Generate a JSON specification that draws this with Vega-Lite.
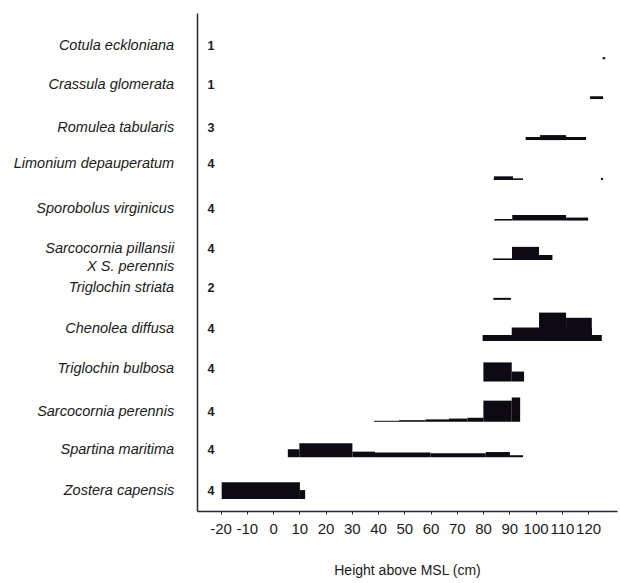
{
  "$schema": "https://vega.github.io/schema/vega-lite/v6.json",
  "width": 420,
  "height": 498,
  "autosize": {"type": "none"},
  "padding": {"left": 197, "top": 13, "right": 3, "bottom": 72},
  "background": "white",
  "config": {
    "view": {"stroke": null},
    "font": "Liberation Sans",
    "axisX": {
      "grid": false,
      "domainColor": "#2e2433",
      "domainWidth": 1.5,
      "tickColor": "#2e2433",
      "tickSize": 3,
      "labelFont": "Liberation Sans",
      "labelFontSize": 15,
      "labelColor": "#1a1a1a",
      "labelPadding": 7,
      "labelOverlap": false,
      "titleFont": "Liberation Sans",
      "titleFontSize": 14,
      "titleFontWeight": "normal",
      "titleColor": "#1a1a1a",
      "titlePadding": 27
    },
    "axisY": {
      "labels": false,
      "ticks": false,
      "grid": false,
      "domainColor": "#2e2433",
      "domainWidth": 1.5
    }
  },
  "datasets": {
    "bars": [
      {"species": "Cotula eckloniana", "from": 125.5, "to": 126.5, "lo": 11.34, "hi": 11.39},
      {"species": "Crassula glomerata", "from": 120.7, "to": 125.7, "lo": 10.34, "hi": 10.41},
      {"species": "Romulea tabularis", "from": 96.2, "to": 119.2, "lo": 9.31, "hi": 9.385},
      {"species": "Romulea tabularis", "from": 101.7, "to": 111.6, "lo": 9.31, "hi": 9.435},
      {"species": "Limonium depauperatum", "from": 84.1, "to": 95.2, "lo": 8.31, "hi": 8.35},
      {"species": "Limonium depauperatum", "from": 84.1, "to": 91.4, "lo": 8.31, "hi": 8.4},
      {"species": "Limonium depauperatum", "from": 124.9, "to": 125.7, "lo": 8.31, "hi": 8.36},
      {"species": "Sporobolus virginicus", "from": 84.3, "to": 91.1, "lo": 7.29, "hi": 7.33},
      {"species": "Sporobolus virginicus", "from": 91.1, "to": 111.6, "lo": 7.29, "hi": 7.43},
      {"species": "Sporobolus virginicus", "from": 111.6, "to": 120, "lo": 7.29, "hi": 7.365},
      {"species": "Sarcocornia pillansii X S. perennis", "from": 83.8, "to": 91, "lo": 6.3, "hi": 6.34},
      {"species": "Sarcocornia pillansii X S. perennis", "from": 91, "to": 106.4, "lo": 6.3, "hi": 6.425},
      {"species": "Sarcocornia pillansii X S. perennis", "from": 91, "to": 101.3, "lo": 6.3, "hi": 6.63},
      {"species": "Triglochin striata", "from": 83.9, "to": 90.6, "lo": 5.3, "hi": 5.35},
      {"species": "Chenolea diffusa", "from": 79.8, "to": 125.2, "lo": 4.27, "hi": 4.42},
      {"species": "Chenolea diffusa", "from": 90.9, "to": 121.4, "lo": 4.27, "hi": 4.605},
      {"species": "Chenolea diffusa", "from": 101.3, "to": 111.6, "lo": 4.27, "hi": 4.98},
      {"species": "Chenolea diffusa", "from": 111.6, "to": 121.4, "lo": 4.27, "hi": 4.85},
      {"species": "Triglochin bulbosa", "from": 80.1, "to": 90.9, "lo": 3.25, "hi": 3.73},
      {"species": "Triglochin bulbosa", "from": 90.9, "to": 95.6, "lo": 3.25, "hi": 3.5},
      {"species": "Sarcocornia perennis", "from": 38.4, "to": 48, "lo": 2.24, "hi": 2.265},
      {"species": "Sarcocornia perennis", "from": 48, "to": 58, "lo": 2.24, "hi": 2.28},
      {"species": "Sarcocornia perennis", "from": 58, "to": 67, "lo": 2.24, "hi": 2.3},
      {"species": "Sarcocornia perennis", "from": 67, "to": 74, "lo": 2.24, "hi": 2.32},
      {"species": "Sarcocornia perennis", "from": 74, "to": 80.1, "lo": 2.24, "hi": 2.34},
      {"species": "Sarcocornia perennis", "from": 80.1, "to": 90.9, "lo": 2.24, "hi": 2.77},
      {"species": "Sarcocornia perennis", "from": 90.9, "to": 94.1, "lo": 2.24, "hi": 2.85},
      {"species": "Spartina maritima", "from": 5.6, "to": 10, "lo": 1.35, "hi": 1.55},
      {"species": "Spartina maritima", "from": 10, "to": 30.2, "lo": 1.35, "hi": 1.7},
      {"species": "Spartina maritima", "from": 30.2, "to": 38.8, "lo": 1.35, "hi": 1.49},
      {"species": "Spartina maritima", "from": 38.8, "to": 60, "lo": 1.35, "hi": 1.47},
      {"species": "Spartina maritima", "from": 60, "to": 81, "lo": 1.35, "hi": 1.45},
      {"species": "Spartina maritima", "from": 81, "to": 90.2, "lo": 1.35, "hi": 1.48},
      {"species": "Spartina maritima", "from": 90.2, "to": 95.2, "lo": 1.35, "hi": 1.4},
      {"species": "Zostera capensis", "from": -19.6, "to": 10.2, "lo": 0.3, "hi": 0.72},
      {"species": "Zostera capensis", "from": 10.2, "to": 12.2, "lo": 0.3, "hi": 0.525}
    ],
    "labels": [
      {"name": "Cotula eckloniana", "n": "1", "ly": 11.68},
      {"name": "Crassula glomerata", "n": "1", "ly": 10.69},
      {"name": "Romulea tabularis", "n": "3", "ly": 9.61},
      {"name": "Limonium depauperatum", "n": "4", "ly": 8.72},
      {"name": "Sporobolus virginicus", "n": "4", "ly": 7.58},
      {"name": "Sarcocornia pillansii", "n": "4", "ly": 6.58},
      {"name": "X S. perennis", "n": null, "ly": 6.12},
      {"name": "Triglochin striata", "n": "2", "ly": 5.6},
      {"name": "Chenolea diffusa", "n": "4", "ly": 4.57},
      {"name": "Triglochin bulbosa", "n": "4", "ly": 3.56},
      {"name": "Sarcocornia perennis", "n": "4", "ly": 2.48},
      {"name": "Spartina maritima", "n": "4", "ly": 1.53},
      {"name": "Zostera capensis", "n": "4", "ly": 0.5}
    ]
  },
  "layer": [
    {
      "data": {"name": "bars"},
      "mark": {"type": "rect", "color": "#0d0a12"},
      "encoding": {
        "x": {
          "field": "from",
          "type": "quantitative",
          "scale": {"domain": [-29, 131], "nice": false, "zero": false},
          "axis": {
            "values": [-20, -10, 0, 10, 20, 30, 40, 50, 60, 70, 80, 90, 100, 110, 120],
            "labelExpr": "'' + datum.value",
            "title": "Height above MSL (cm)"
          }
        },
        "x2": {"field": "to"},
        "y": {
          "field": "lo",
          "type": "quantitative",
          "scale": {"domain": [0, 12.5], "nice": false, "zero": false},
          "axis": {"title": null}
        },
        "y2": {"field": "hi"}
      }
    },
    {
      "data": {"name": "labels"},
      "mark": {
        "type": "text",
        "align": "right",
        "baseline": "middle",
        "fontStyle": "italic",
        "fontSize": 14.5,
        "font": "Liberation Sans",
        "color": "#1a1a1a"
      },
      "encoding": {
        "x": {
          "datum": -37.7,
          "type": "quantitative",
          "axis": {
            "values": [-20, -10, 0, 10, 20, 30, 40, 50, 60, 70, 80, 90, 100, 110, 120],
            "labelExpr": "'' + datum.value",
            "title": "Height above MSL (cm)"
          }
        },
        "y": {"field": "ly", "type": "quantitative", "axis": {"title": null}},
        "text": {"field": "name", "type": "nominal"}
      }
    },
    {
      "data": {"name": "labels"},
      "transform": [{"filter": "datum.n != null"}],
      "mark": {
        "type": "text",
        "align": "center",
        "baseline": "middle",
        "fontSize": 12.5,
        "fontWeight": "bold",
        "font": "Liberation Sans",
        "color": "#1a1a1a"
      },
      "encoding": {
        "x": {
          "datum": -23.7,
          "type": "quantitative",
          "axis": {
            "values": [-20, -10, 0, 10, 20, 30, 40, 50, 60, 70, 80, 90, 100, 110, 120],
            "labelExpr": "'' + datum.value",
            "title": "Height above MSL (cm)"
          }
        },
        "y": {"field": "ly", "type": "quantitative", "axis": {"title": null}},
        "text": {"field": "n", "type": "nominal"}
      }
    }
  ]
}
